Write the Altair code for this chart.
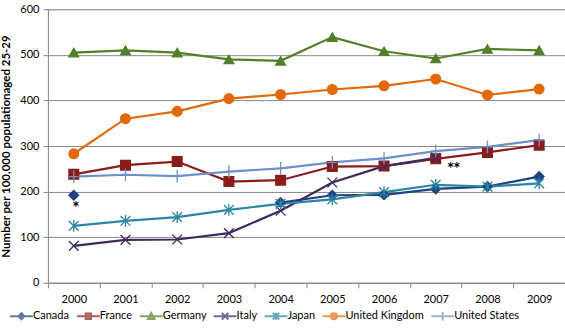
import altair as alt
import pandas as pd

years = [2000, 2001, 2002, 2003, 2004, 2005, 2006, 2007, 2008, 2009]
countries = ["Canada", "France", "Germany", "Italy", "Japan", "United Kingdom", "United States"]
canada = [192, None, None, None, 176, 192, 193, 206, 211, 233]
france = [238, 258, 266, 222, 225, 255, 256, 272, 286, 302]
germany = [505, 510, 505, 490, 487, 539, 508, 492, 513, 510]
italy = [81, 94, 95, 109, 158, 220, 256, 274, None, None]
japan = [125, 136, 144, 160, 173, 183, 199, 215, 211, 218]
uk = [283, 360, 376, 404, 413, 424, 432, 447, 412, 425]
us = [233, 237, 234, 244, 251, 264, 273, 289, 298, 313]
series = [canada, france, germany, italy, japan, uk, us]

colors = ["#1f4280", "#8b1c1c", "#527f28", "#40295e", "#2b86a3", "#e3680b", "#6f8fca"]

note_labels = ["*", "**"]
note_years = [2000, 2007]
note_values = [177, 265]

rows = []
for c, vals in zip(countries, series):
    for y, v in zip(years, vals):
        rows.append({"Year": str(y), "Country": c, "Value": v})
df = pd.DataFrame(rows)
pts = df.dropna()
notes = pd.DataFrame({"Year": [str(y) for y in note_years], "Value": note_values,
                      "Label": note_labels})

plot_shapes = [
    "diamond", "square", "triangle-up",
    "M-1,-1L1,1M1,-1L-1,1",
    "M-1,-1L1,1M1,-1L-1,1M0,-1.2L0,1.2",
    "circle",
    "M0,-1.3L0,1.3M-1,0L1,0",
]
legend_shapes = [
    "M-3.8,0L3.8,0M0,-1L1,0L0,1L-1,0Z",
    "M-3.8,0L3.8,0M-0.9,-0.9L0.9,-0.9L0.9,0.9L-0.9,0.9Z",
    "M-3.8,0L3.8,0M0,-1.1L1.1,0.9L-1.1,0.9Z",
    "M-3.8,0L3.8,0M-1.1,-1.1L1.1,1.1M1.1,-1.1L-1.1,1.1",
    "M-3.8,0L3.8,0M-1.1,-1.1L1.1,1.1M1.1,-1.1L-1.1,1.1M0,-1.2L0,1.2",
    "M-3.8,0L3.8,0M-1,0A1,1,0,1,0,1,0A1,1,0,1,0,-1,0Z",
    "M-3.8,0L3.8,0M0,-1.4L0,1.4",
]

FONT = "Lato"

x_enc = alt.X("Year:N", sort=[str(y) for y in years],
              scale=alt.Scale(type="band", paddingInner=0, paddingOuter=0),
              axis=alt.Axis(title=None, tickBand="extent", labelAngle=0, grid=False,
                            domainColor="#868686", tickColor="#868686", tickSize=5,
                            labelFont=FONT, labelFontSize=11, labelColor="#000000",
                            labelPadding=6))
y_enc = alt.Y("Value:Q", scale=alt.Scale(domain=[0, 600], nice=False),
              axis=alt.Axis(title="Number per 100,000 populationaged 25-29",
                            values=[0, 100, 200, 300, 400, 500, 600],
                            titleFont=FONT, titleFontSize=11.5, titleFontWeight="bold",
                            titleColor="#000000", titlePadding=8,
                            labelFont=FONT, labelFontSize=11, labelColor="#000000",
                            gridColor="#868686", gridWidth=1,
                            domainColor="#868686", tickColor="#868686", tickSize=5,
                            labelPadding=4))

cscale = alt.Scale(domain=countries, range=colors)

lines = alt.Chart(df).mark_line(strokeWidth=2.2).encode(
    x=x_enc, y=y_enc,
    color=alt.Color("Country:N", scale=cscale, legend=None),
)

points = alt.Chart(pts).mark_point(filled=True, size=95, strokeWidth=1.3, opacity=1).encode(
    x=x_enc, y=y_enc,
    fill=alt.Fill("Country:N", scale=cscale, legend=None),
    stroke=alt.Stroke("Country:N", scale=cscale, legend=None),
    shape=alt.Shape("Country:N", scale=alt.Scale(domain=countries, range=plot_shapes), legend=None),
)

leg = alt.Legend(title=None, orient="none", legendX=-32, legendY=302,
                 direction="horizontal", symbolSize=36, symbolStrokeWidth=2,
                 gridAlign="none",
                 labelFont=FONT, labelFontSize=11, labelColor="#000000", labelOffset=6,
                 columnPadding=3, padding=0)
legend_layer = alt.Chart(df).transform_filter("false").transform_calculate(
    Series="datum.Country"
).mark_point(filled=True, size=36).encode(
    x=x_enc, y=y_enc,
    fill=alt.Fill("Series:N", scale=alt.Scale(domain=countries, range=colors), legend=leg),
    stroke=alt.Stroke("Series:N", scale=alt.Scale(domain=countries, range=colors), legend=leg),
    shape=alt.Shape("Series:N", scale=alt.Scale(domain=countries, range=legend_shapes), legend=leg),
)

text1 = alt.Chart(notes[notes.Label == "*"]).mark_text(
    font="DejaVu Sans", fontSize=12, fontWeight="bold", color="#000000", dx=2, dy=4).encode(
    x=x_enc, y=y_enc, text="Label:N")
text2 = alt.Chart(notes[notes.Label == "**"]).mark_text(
    font="DejaVu Sans", fontSize=12, fontWeight="bold", color="#000000", dx=18, dy=5).encode(
    x=x_enc, y=y_enc, text="Label:N")

chart = alt.layer(lines, points, text1, text2, legend_layer).resolve_scale(
    shape="independent", fill="independent", stroke="independent"
).properties(
    width=518, height=274,
    autosize=alt.AutoSizeParams(type="none"),
    padding={"left": 48, "top": 9, "right": 0, "bottom": 46},
).configure_view(stroke=None).configure(background="white")

chart.save("out.html", embed_options={"renderer": "svg", "actions": False})
